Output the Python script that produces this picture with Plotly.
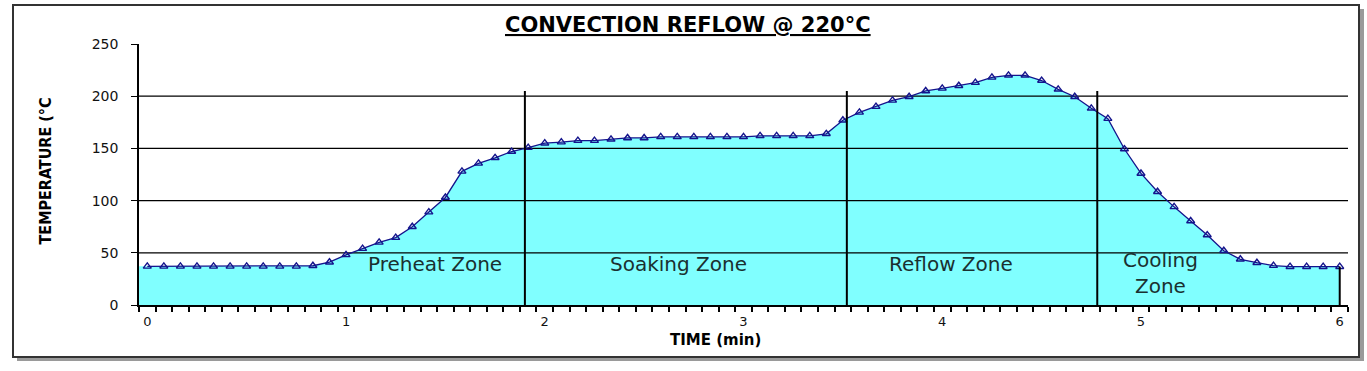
import plotly.graph_objects as go

# ---------------- data ----------------
# samples every 5 s (1/12 min) from 0 to 6 min
time_min = [k / 12 for k in range(73)]
temp_c = [
    37, 37, 37, 37, 37, 37, 37, 37, 37, 37,          # 0.00 - 0.75
    37.6, 41, 48, 54, 60, 64.5, 75, 89, 103, 128,    # 0.83 - 1.58
    135.7, 141, 147, 150.7, 155, 156, 157.4, 157.4, 158.7, 160,  # 1.67 - 2.42
    160, 161, 161, 161, 161, 161, 161, 162, 162, 162,            # 2.50 - 3.25
    162, 164, 177, 184.5, 190, 196, 199.5, 205, 207.5, 210,      # 3.33 - 4.08
    213, 218, 220, 220, 215, 206.6, 199.5, 188.4, 178.5, 149.4,  # 4.17 - 4.92
    126, 108.5, 94, 80.5, 67, 52, 43.8, 40.5, 37.7, 36.7,        # 5.00 - 5.75
    36.7, 36.7, 36.7,                                            # 5.83 - 6.00
]
x_tick_vals = [0, 1, 2, 3, 4, 5, 6]
x_tick_text = ["0", "1", "2", "3", "4", "5", "6"]
y_tick_vals = [0, 50, 100, 150, 200, 250]
grid_vals = [50, 100, 150, 200]
zone_bounds = [1.9, 3.52, 4.78]
zone_names = ["Preheat Zone", "Soaking Zone", "Reflow Zone", "Cooling<br>Zone"]
zone_label_x = [1.45, 2.675, 4.045, 5.1]
zone_label_y = [39, 39, 39, 31]

title_text = "CONVECTION REFLOW @ 220°C"
x_title = "TIME (min)"
y_title = "TEMPERATURE (°C"

# ---------------- layout geometry ----------------
W, H = 1367, 371
L, R, T, B = 139, 19, 44, 66
PW, PH = W - L - R, H - T - B
half = 1 / 24
x_range = [time_min[0] - half, time_min[-1] + half]
y_range = [0, 250]


def px_x(p):
    return (p - L) / PW


def px_y(p):
    return (H - B - p) / PH


FILL = "#80FFFF"
NAVY = "#14148C"

fig = go.Figure()

# area fill (extends to the left axis edge)
fig.add_trace(go.Scatter(
    x=[x_range[0]] + time_min, y=[temp_c[0]] + temp_c,
    mode="lines", line=dict(width=0), fill="tozeroy", fillcolor=FILL,
    hoverinfo="skip", showlegend=False))

# horizontal gridlines above the fill
gx, gy = [], []
for g in grid_vals:
    gx += [x_range[0], x_range[1], None]
    gy += [g, g, None]
fig.add_trace(go.Scatter(x=gx, y=gy, mode="lines",
                         line=dict(color="black", width=1.2),
                         hoverinfo="skip", showlegend=False))

# profile line with triangle markers
fig.add_trace(go.Scatter(
    x=time_min, y=temp_c, mode="lines+markers",
    line=dict(color=NAVY, width=1.3),
    marker=dict(symbol="triangle-up-open", size=7, color=NAVY,
                line=dict(width=1.4, color=NAVY)),
    showlegend=False))

shapes = []
# zone boundaries
zone_bottoms = [-8, -8, -2]
for zb, yb in zip(zone_bounds, zone_bottoms):
    shapes.append(dict(type="line", xref="x", yref="y", x0=zb, x1=zb,
                       y0=yb, y1=205, line=dict(color="black", width=2),
                       layer="above"))
# right edge of area
shapes.append(dict(type="line", xref="x", yref="y", x0=time_min[-1],
                   x1=time_min[-1], y0=0, y1=temp_c[-1],
                   line=dict(color="black", width=2), layer="above"))
# frame with shadow
shapes.append(dict(type="rect", xref="paper", yref="paper",
                   x0=px_x(17), x1=px_x(1364), y0=px_y(361), y1=px_y(9),
                   line=dict(width=0), fillcolor="#9a9a9a", layer="below"))
shapes.append(dict(type="rect", xref="paper", yref="paper",
                   x0=px_x(13), x1=px_x(1359), y0=px_y(357), y1=px_y(5),
                   line=dict(color="#333333", width=2), fillcolor="white",
                   layer="below"))

annotations = []
for name, zx, zy in zip(zone_names, zone_label_x, zone_label_y):
    annotations.append(dict(x=zx, y=zy, xref="x", yref="y", text=name,
                            showarrow=False, xanchor="center", yanchor="middle",
                            font=dict(family="DejaVu Sans", size=20, color="#1a3030")))
annotations.append(dict(x=px_x(715), y=px_y(340), xref="paper", yref="paper",
                        text=x_title, showarrow=False, xanchor="center",
                        yanchor="middle",
                        font=dict(family="DejaVu Sans", size=15, color="black",
                                  weight="bold")))
annotations.append(dict(x=px_x(45), y=px_y(171.5), xref="paper", yref="paper",
                        text=y_title, showarrow=False, textangle=-90,
                        xanchor="center", yanchor="middle",
                        font=dict(family="DejaVu Sans Condensed, sans-serif",
                                  size=16, color="black", weight="bold")))
annotations.append(dict(x=px_x(688), y=px_y(25), xref="paper", yref="paper",
                        text=title_text, showarrow=False, xanchor="center",
                        yanchor="middle",
                        font=dict(family="DejaVu Sans", size=21, color="black",
                                  weight="bold", lineposition="under")))

fig.update_layout(
    width=W, height=H,
    margin=dict(l=L, r=R, t=T, b=B, pad=0),
    paper_bgcolor="white", plot_bgcolor="rgba(0,0,0,0)",
    shapes=shapes, annotations=annotations,
    xaxis=dict(range=x_range, tickvals=x_tick_vals, ticktext=x_tick_text,
               ticks="", showgrid=False, zeroline=False,
               showline=True, linecolor="black", linewidth=1.5,
               ticklabelstandoff=4,
               tickfont=dict(family="DejaVu Sans", size=13, color="#111"),
               minor=dict(ticks="outside", tick0=x_range[0], dtick=1 / 12,
                          ticklen=5, tickwidth=1.5, tickcolor="black",
                          showgrid=False)),
    yaxis=dict(range=y_range, tickvals=y_tick_vals, ticks="outside",
               ticklen=6, tickwidth=1.2, tickcolor="black",
               showgrid=False, zeroline=False,
               showline=True, linecolor="black", linewidth=1.5,
               ticklabelstandoff=10,
               tickfont=dict(family="DejaVu Sans", size=14, color="#111")),
)

fig.write_html("out.html",
               config={"displayModeBar": False},
               post_script="document.body.style.margin='0px';"
                           "document.body.style.padding='0px';")
